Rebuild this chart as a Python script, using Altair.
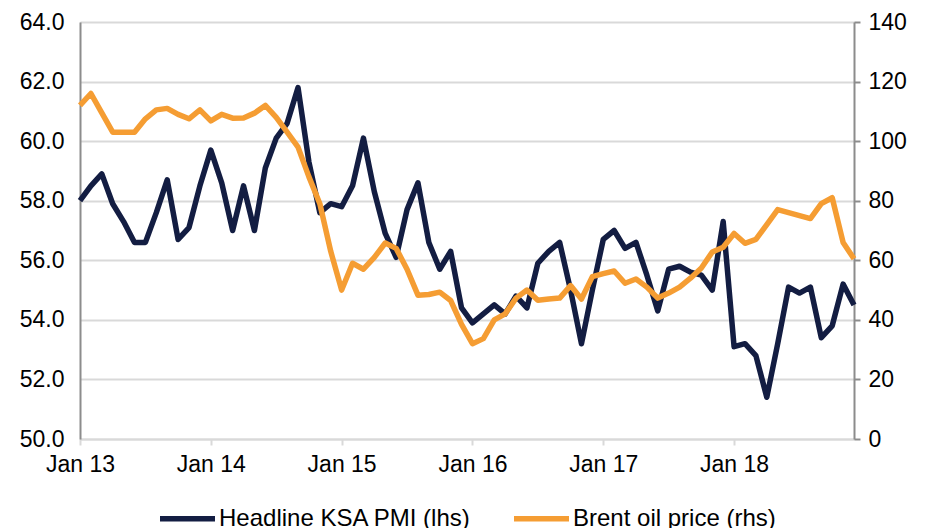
import altair as alt
import pandas as pd

# Monthly observations Jan 2013 .. Dec 2018 (month index 0..71)
pmi = [58.0, 58.5, 58.9, 57.9, 57.3, 56.6, 56.6, 57.6, 58.7, 56.7, 57.1, 58.5,
       59.7, 58.6, 57.0, 58.5, 57.0, 59.1, 60.1, 60.6, 61.8, 59.3, 57.6, 57.9,
       57.8, 58.5, 60.1, 58.3, 56.9, 56.1, 57.7, 58.6, 56.6, 55.7, 56.3, 54.4,
       53.9, 54.2, 54.5, 54.2, 54.8, 54.4, 55.9, 56.3, 56.6, 55.0, 53.2, 55.0,
       56.7, 57.0, 56.4, 56.6, 55.5, 54.3, 55.7, 55.8, 55.6, 55.5, 55.0, 57.3,
       53.1, 53.2, 52.8, 51.4, 53.2, 55.1, 54.9, 55.1, 53.4, 53.8, 55.2, 54.5]

brent = [112.0, 116.0, 109.5, 103.0, 103.0, 103.0, 107.5, 110.5, 111.0, 109.0, 107.5, 110.5,
         106.8, 109.0, 107.7, 107.8, 109.4, 112.0, 108.0, 103.0, 98.0, 88.0, 79.0, 63.0,
         50.0, 59.0, 57.0, 61.0, 65.8, 64.0, 57.0, 48.3, 48.5, 49.3, 46.5, 38.5,
         32.0, 33.7, 40.0, 42.0, 47.3, 50.0, 46.6, 47.0, 47.3, 51.5, 47.0, 54.5,
         55.5, 56.4, 52.3, 53.7, 51.0, 47.3, 49.0, 51.0, 54.0, 57.4, 62.8, 64.4,
         69.0, 65.7, 67.0, 72.0, 77.0, 76.0, 75.0, 74.0, 79.0, 81.0, 66.0, 60.5]

year_ticks = [0, 12, 24, 36, 48, 60]
year_labels = ["Jan 13", "Jan 14", "Jan 15", "Jan 16", "Jan 17", "Jan 18"]

series_names = ["Headline KSA PMI (lhs)", "Brent oil price (rhs)"]
series_colors = ["#131d42", "#f59d33"]

left_ticks = [50, 52, 54, 56, 58, 60, 62, 64]
right_ticks = [0, 20, 40, 60, 80, 100, 120, 140]

months = list(range(len(pmi)))
df_pmi = pd.DataFrame({"m": months, "v": pmi, "s": series_names[0]})
df_brent = pd.DataFrame({"m": months, "v": brent, "s": series_names[1]})

FONT = "Liberation Sans"
FS = 23

label_expr = "[" + ",".join("'%s'" % l for l in year_labels) + "][round(datum.value/12)]"

x_enc = alt.X(
    "m:Q",
    scale=alt.Scale(domain=[0, len(pmi) - 1], nice=False, zero=False),
    axis=alt.Axis(
        values=year_ticks, labelExpr=label_expr, title=None, grid=False,
        domainColor="#d9d9d9", domainWidth=2, tickColor="#d9d9d9", tickWidth=2,
        tickSize=6, labelPadding=8, labelFont=FONT, labelFontSize=FS,
        labelColor="#000000", labelFlush=False,
    ),
)

color_enc = alt.Color(
    "s:N",
    scale=alt.Scale(domain=series_names, range=series_colors),
    legend=alt.Legend(
        title=None, orient="none", direction="horizontal",
        legendX=77, legendY=466,
        symbolType="stroke", symbolSize=3025, symbolStrokeWidth=5.5,
        labelFont=FONT, labelFontSize=24, labelColor="#000000",
        labelOffset=1, columnPadding=31, labelLimit=400,
    ),
)

pmi_line = alt.Chart(df_pmi).mark_line(strokeWidth=5.5, strokeJoin="round").encode(
    x=x_enc,
    y=alt.Y(
        "v:Q",
        scale=alt.Scale(domain=[50, 64], nice=False, zero=False),
        axis=alt.Axis(
            orient="left", values=left_ticks, format=".1f", title=None,
            grid=True, gridColor="#d9d9d9", gridWidth=2,
            domainColor="#8c8c8c", domainWidth=2, ticks=False,
            labelPadding=16, labelFont=FONT, labelFontSize=FS,
            labelColor="#000000",
        ),
    ),
    color=color_enc,
)

brent_line = alt.Chart(df_brent).mark_line(strokeWidth=5.5, strokeJoin="round").encode(
    x=x_enc,
    y=alt.Y(
        "v:Q",
        scale=alt.Scale(domain=[0, 140], nice=False, zero=False),
        axis=alt.Axis(
            orient="right", values=right_ticks, format="d", title=None,
            grid=False, domainColor="#8c8c8c", domainWidth=2,
            tickColor="#8c8c8c", tickWidth=2, tickSize=6,
            labelPadding=8, labelFont=FONT, labelFontSize=FS,
            labelColor="#000000",
        ),
    ),
    color=color_enc,
)

chart = (
    alt.layer(pmi_line, brent_line)
    .resolve_scale(y="independent")
    .properties(
        width=774, height=417,
        autosize=alt.AutoSizeParams(type="none"),
        padding={"left": 72, "top": 14, "right": 70, "bottom": 95},
    )
    .configure_view(stroke=None)
    .configure(background="white")
)

chart.save("out.html", embed_options={"renderer": "svg", "actions": False})
